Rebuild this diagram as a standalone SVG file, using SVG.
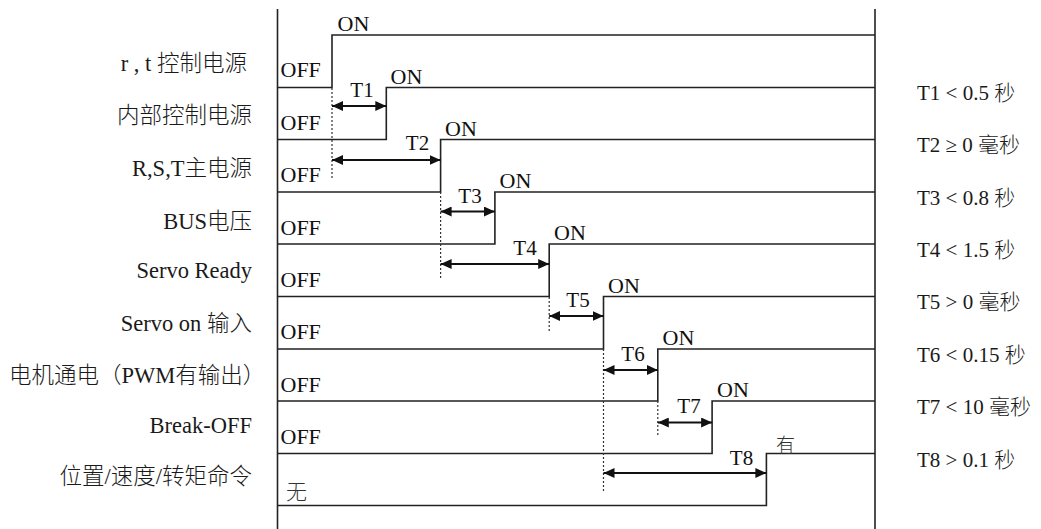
<svg xmlns="http://www.w3.org/2000/svg" width="1041" height="529" viewBox="0 0 1041 529">
<defs>
<style>
.sig{fill:none;stroke:#222;stroke-width:1.6}
.frame{fill:none;stroke:#222;stroke-width:1.6}
.dot{fill:none;stroke:#333;stroke-width:1.2;stroke-dasharray:2,2}
.arr{fill:none;stroke:#111;stroke-width:1.8;marker-start:url(#ah);marker-end:url(#ah)}
.lbl{font-family:"Liberation Serif","Noto Sans CJK SC",serif;font-size:22.5px;font-weight:300;fill:#1a1a1a;text-anchor:end}
.st{font-family:"Liberation Serif","Noto Sans CJK SC",serif;font-size:22px;fill:#111}
.rt{font-family:"Liberation Serif","Noto Sans CJK SC",serif;font-size:21px;font-weight:300;fill:#1a1a1a}
.tl{font-family:"Liberation Serif","Noto Sans CJK SC",serif;font-size:21px;fill:#111;text-anchor:middle}
.cj{font-family:"Noto Sans CJK SC",sans-serif;font-weight:300;fill:#333}
</style>
<marker id="ah" markerUnits="userSpaceOnUse" markerWidth="12" markerHeight="10" refX="11" refY="5" orient="auto-start-reverse">
<path d="M0,0 L11,5 L0,10 Z" fill="#111"/>
</marker>
</defs>
<rect width="1041" height="529" fill="#fff"/>
<g id="frame">
<line class="frame" x1="277.5" y1="9" x2="277.5" y2="529"/>
<line class="frame" x1="875" y1="9" x2="875" y2="529"/>
</g>
<g id="row1">
<text class="lbl" x="247" y="71">r , t 控制电源</text>
<path class="sig" d="M277.5 87.5 H332 V35 H875"/>
<text class="st" x="280.5" y="77">OFF</text>
<text class="st" x="337.5" y="31">ON</text>
<text class="rt" x="917" y="100">T1 &lt; 0.5 秒</text>
</g>
<g id="row2">
<text class="lbl" x="252" y="123">内部控制电源</text>
<path class="sig" d="M277.5 139.5 H386.3 V87.5 H875"/>
<text class="st" x="280.5" y="130">OFF</text>
<text class="st" x="390.5" y="84">ON</text>
<text class="rt" x="917" y="152">T2 ≥ 0 毫秒</text>
</g>
<g id="row3">
<text class="lbl" x="252" y="176">R,S,T主电源</text>
<path class="sig" d="M277.5 192 H440.6 V139.5 H875"/>
<text class="st" x="280.5" y="182">OFF</text>
<text class="st" x="445" y="136">ON</text>
<text class="rt" x="917" y="205">T3 &lt; 0.8 秒</text>
</g>
<g id="row4">
<text class="lbl" x="252" y="229">BUS电压</text>
<path class="sig" d="M277.5 244 H494.9 V192 H875"/>
<text class="st" x="280.5" y="235">OFF</text>
<text class="st" x="499.5" y="188">ON</text>
<text class="rt" x="917" y="257">T4 &lt; 1.5 秒</text>
</g>
<g id="row5">
<text class="lbl" x="252" y="278">Servo Ready</text>
<path class="sig" d="M277.5 296.5 H549.2 V244 H875"/>
<text class="st" x="280.5" y="287">OFF</text>
<text class="st" x="554" y="240">ON</text>
<text class="rt" x="917" y="309">T5 &gt; 0 毫秒</text>
</g>
<g id="row6">
<text class="lbl" x="252" y="331">Servo on 输入</text>
<path class="sig" d="M277.5 349 H603.5 V296.5 H875"/>
<text class="st" x="280.5" y="339">OFF</text>
<text class="st" x="608" y="293">ON</text>
<text class="rt" x="917" y="362">T6 &lt; 0.15 秒</text>
</g>
<g id="row7">
<text class="lbl" x="9" y="383" style="text-anchor:start">电机通电（PWM有输出）</text>
<path class="sig" d="M277.5 401 H657.8 V349 H875"/>
<text class="st" x="280.5" y="392">OFF</text>
<text class="st" x="662.5" y="345">ON</text>
<text class="rt" x="917" y="414">T7 &lt; 10 毫秒</text>
</g>
<g id="row8">
<text class="lbl" x="252" y="433">Break-OFF</text>
<path class="sig" d="M277.5 453.5 H712.1 V401 H875"/>
<text class="st" x="280.5" y="444">OFF</text>
<text class="st" x="717" y="397">ON</text>
<text class="rt" x="917" y="467">T8 &gt; 0.1 秒</text>
</g>
<g id="row9">
<text class="lbl" x="252" y="484">位置/速度/转矩命令</text>
<path class="sig" d="M277.5 505.5 H766.4 V453.5 H875"/>
<text class="cj" x="286" y="499" font-size="21">无</text>
<text class="cj" x="776" y="452" font-size="19">有</text>
</g>
<g id="connectors">
<line class="dot" x1="332" y1="88" x2="332" y2="178"/>
<line class="dot" x1="440.6" y1="192" x2="440.6" y2="278"/>
<line class="dot" x1="549.2" y1="297" x2="549.2" y2="332"/>
<line class="dot" x1="603.5" y1="349" x2="603.5" y2="493"/>
<line class="dot" x1="657.8" y1="401" x2="657.8" y2="437"/>
<line class="arr" x1="332" y1="106" x2="386.3" y2="106"/>
<line class="arr" x1="332" y1="160" x2="440.6" y2="160"/>
<line class="arr" x1="440.6" y1="211.5" x2="494.9" y2="211.5"/>
<line class="arr" x1="440.6" y1="264" x2="549.2" y2="264"/>
<line class="arr" x1="549.2" y1="316" x2="603.5" y2="316"/>
<line class="arr" x1="603.5" y1="370" x2="657.8" y2="370"/>
<line class="arr" x1="657.8" y1="422.5" x2="712.1" y2="422.5"/>
<line class="arr" x1="603.5" y1="473" x2="766.4" y2="473"/>
<text class="tl" x="362" y="97">T1</text>
<text class="tl" x="417.5" y="150">T2</text>
<text class="tl" x="470" y="203">T3</text>
<text class="tl" x="525" y="255">T4</text>
<text class="tl" x="578" y="307">T5</text>
<text class="tl" x="633" y="361">T6</text>
<text class="tl" x="689" y="413">T7</text>
<text class="tl" x="741.5" y="465">T8</text>
</g>
</svg>
